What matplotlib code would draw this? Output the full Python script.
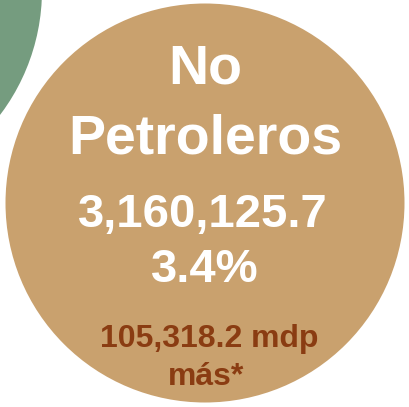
import matplotlib
matplotlib.use("Agg")
import matplotlib.pyplot as plt
from matplotlib.patches import Circle

# text content of the bubble
title_lines = ["No", "Petroleros"]
total_value = "3,160,125.7"
growth_pct = "3.4%"
diff_lines = ["105,318.2 mdp", "más*"]

TAN = "#C9A16E"
BROWN = "#8A3C12"
GREEN = "#759C7F"

W, H = 409, 407
fig = plt.figure(figsize=(W / 100, H / 100), dpi=100)
ax = fig.add_axes([0, 0, 1, 1])
ax.set_xlim(0, W)
ax.set_ylim(H, 0)
ax.set_aspect("equal")
ax.axis("off")

# neighbouring bubble peeking in from the top-left
ax.add_patch(Circle((-165, -10), 207, color=GREEN, lw=0))
# main bubble
ax.add_patch(Circle((205, 203), 199.5, color=TAN, lw=0))

font = "Liberation Sans"
ax.text(205, 83, title_lines[0], ha="center", va="baseline", color="white",
        fontsize=40, fontweight="bold", family=font)
ax.text(205, 153, title_lines[1], ha="center", va="baseline", color="white",
        fontsize=40, fontweight="bold", family=font)
ax.text(203, 227, total_value, ha="center", va="baseline", color="white",
        fontsize=34, fontweight="bold", family=font)
ax.text(205, 282, growth_pct, ha="center", va="baseline", color="white",
        fontsize=34, fontweight="bold", family=font)
ax.text(209, 347, diff_lines[0], ha="center", va="baseline", color=BROWN,
        fontsize=23, fontweight="bold", family=font)
ax.text(206, 385, diff_lines[1], ha="center", va="baseline", color=BROWN,
        fontsize=23, fontweight="bold", family=font)

fig.savefig("out.png", dpi=100)
